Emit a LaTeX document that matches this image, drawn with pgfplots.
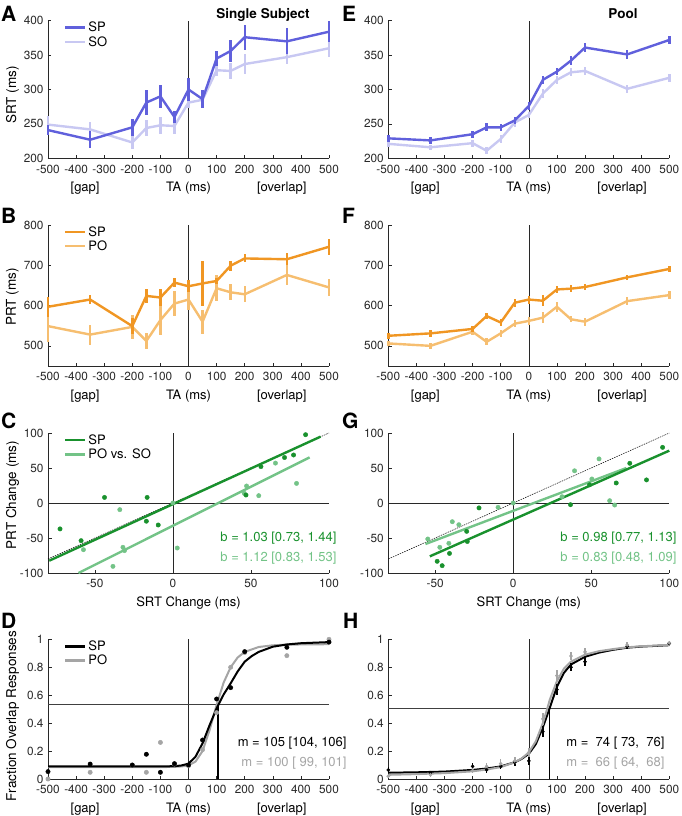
\documentclass[border=0pt]{standalone}
\usepackage{pgfplots}
\pgfplotsset{compat=1.18}
\usepackage{pgfplotstable}
\usepackage{fontspec}
\setmainfont{TeX Gyre Heros}

\definecolor{bdark}{RGB}{96,96,220}
\definecolor{blight}{RGB}{200,200,242}
\definecolor{odark}{RGB}{240,150,35}
\definecolor{olight}{RGB}{246,190,112}
\definecolor{gdark}{RGB}{25,145,45}
\definecolor{glight}{RGB}{115,195,135}
\definecolor{greyc}{RGB}{165,165,165}
\definecolor{axc}{RGB}{40,40,40}

\newcommand{\fs}[1]{\fontsize{#1}{#1}\selectfont}

\pgfplotsset{
  base/.style={scale only axis, width=281pt, anchor=north west,
    axis x line*=bottom, axis y line*=left, tick align=inside,
    major tick length=3.5pt, tick style={axc, line width=0.5pt},
    axis line style={axc, line width=0.6pt},
    ticklabel style={font=\fs{11.8}, text=axc},
    xticklabel style={yshift=-3pt},
    yticklabel style={xshift=-1pt},
    /pgf/number format/assume math mode=true, scaled ticks=false,
    clip=false,
    legend style={at={(0.045,1.02)}, anchor=north west, draw=none, fill=none,
      font=\fs{13}, row sep=-1pt},
    legend cell align=left,
    legend image code/.code={\draw[##1] (0pt,0pt) -- (20pt,0pt);}},
  ta/.style={base, xmin=-500, xmax=500, xtick={-500,-400,...,500}},
  ebar/.style={error bars/.cd, y dir=both, y explicit, error mark=none,
    error bar style={line width=#1}},
}

\newcommand{\talabels}{%
  \node[font=\fs{13}, anchor=base, yshift=-33pt] at (rel axis cs:0.132,0) {[gap]};
  \node[font=\fs{13}, anchor=base, yshift=-33pt] at (rel axis cs:0.5,0) {TA (ms)};
  \node[font=\fs{13}, anchor=base, yshift=-33pt] at (rel axis cs:0.832,0) {[overlap]};
}

% ---------- data ----------
\pgfplotstableread{
x spy spe soy soe
-500 241 7 249 12
-350 227 12 242 11
-200 245 12 223 10
-150 281 18 244 12
-100 290 17 248 12
-50 260 9 247 12
0 300 17 281 8
50 286 13 285 9
100 345 11 328 8
150 356 16 327 12
200 376 18 337 15
350 370 19 347 10
500 384 15 360 13
}\tabA

\pgfplotstableread{
x spy spe poy poe
-500 597 25 549 40
-350 615 12 528 25
-200 549 20 547 30
-150 624 18 512 20
-100 620 22 564 38
-50 657 12 605 30
0 648 15 615 25
50 655 55 560 30
100 661 8 643 32
150 699 12 633 20
200 717 10 628 20
350 715 15 676 25
500 746 20 645 22
}\tabB

\pgfplotstableread{
x spy spe soy soe
-500 229 5 221 4
-350 226 5 216 4
-200 235 5 222 5
-150 245 6 211 5
-100 245 5 228 6
-50 255 5 252 6
0 276 6 263 5
50 314 6 294 6
100 326 5 314 6
150 342 6 325 6
200 361 6 327 6
350 351 6 301 6
500 372 6 317 6
}\tabE

\pgfplotstableread{
x spy spe poy poe
-500 525 8 506 7
-350 531 8 500 8
-200 542 7 535 8
-150 574 8 510 9
-100 558 8 531 8
-50 607 10 555 8
0 615 10 562 10
50 612 14 570 14
100 640 8 597 12
150 642 8 566 8
200 646 8 560 10
350 670 6 611 10
500 691 8 626 9
}\tabF

\pgfplotstableread{
x y
-72.3 -37
-58.8 -53.8
-43.8 8
-16.5 8
-17 -26
-9.4 -31.4
46.8 11.4
56.4 52
71.5 65
77.3 68.6
85 97.6
}\tabCsp

\pgfplotstableread{
x y
-57.3 -66.7
-34 -9.5
-38.4 -90.5
-32 -63.3
-31 -68
0 0
2.8 -64.3
45.7 13.8
47.2 24.3
55 10.5
65.7 57
79.2 28
}\tabCpo

\pgfplotstableread{
x y
-48.7 -83.3
-45.5 -89.5
-40.8 -72
-29.8 -40.5
-29.4 -55
-21.9 -7
36.7 -2.4
48.9 26
66 28.6
74.7 56.7
85.4 33
95.7 79.5
}\tabGsp

\pgfplotstableread{
x y
-54.7 -51.4
-47 -63.3
-41.2 -57.6
-39 -26.7
-34.8 -31
-9.7 -6.2
0 0
31.3 9
39.3 46
50.4 34.3
55 63
61.8 3.3
65 -2.9
}\tabGpo

\pgfplotstableread{
x y
-500 0.053
-350 0.107
-200 0.10
-150 0.177
-100 0.048
-50 0.11
0 0.10
50 0.279
100 0.573
150 0.654
200 0.912
350 0.943
500 0.98
}\tabDsp

\pgfplotstableread{
x y
-500 0.0
-350 0.048
-200 0.10
-150 0.048
-100 0.262
-50 0.107
0 0.095
50 0.21
100 0.475
150 0.80
200 0.905
350 0.883
500 1.0
}\tabDpo

\pgfplotstableread{
x y
-500 0.09
-100 0.09
-50 0.092
-25 0.097
0 0.11
25 0.16
50 0.255
75 0.385
100 0.506
125 0.605
150 0.685
175 0.77
200 0.84
225 0.88
250 0.91
300 0.947
350 0.963
400 0.972
500 0.98
}\tabDspfit

\pgfplotstableread{
x y
-500 0.085
-100 0.085
-50 0.087
-25 0.09
0 0.097
25 0.125
50 0.20
75 0.35
100 0.53
125 0.69
150 0.80
175 0.87
200 0.91
250 0.945
300 0.957
350 0.962
500 0.965
}\tabDpofit

\pgfplotstableread{
x y e
-500 0.065 0.02
-350 0.045 0.015
-200 0.09 0.025
-150 0.065 0.025
-100 0.09 0.02
-50 0.12 0.025
0 0.13 0.03
50 0.34 0.04
100 0.64 0.04
150 0.80 0.03
200 0.84 0.03
350 0.95 0.02
500 0.97 0.01
}\tabHsp

\pgfplotstableread{
x y e
-500 0.02 0.01
-350 0.03 0.015
-200 0.06 0.02
-150 0.09 0.025
-100 0.11 0.03
-50 0.13 0.025
0 0.19 0.03
50 0.43 0.04
100 0.74 0.04
150 0.88 0.03
200 0.91 0.03
350 0.96 0.02
500 0.975 0.01
}\tabHpo

\pgfplotstableread{
x y
-500 0.045
-400 0.048
-300 0.053
-200 0.065
-150 0.075
-100 0.09
-50 0.12
-25 0.145
0 0.18
25 0.25
50 0.37
74 0.506
100 0.66
125 0.76
150 0.82
200 0.875
250 0.905
300 0.925
350 0.94
400 0.948
500 0.958
}\tabHspfit

\pgfplotstableread{
x y
-500 0.03
-400 0.035
-300 0.042
-200 0.055
-150 0.068
-100 0.085
-50 0.12
-25 0.148
0 0.19
25 0.27
50 0.40
66 0.506
75 0.57
100 0.70
125 0.79
150 0.84
200 0.89
250 0.915
300 0.93
350 0.943
400 0.95
500 0.96
}\tabHpofit

\begin{document}
\begin{tikzpicture}
\useasboundingbox (0pt,0pt) rectangle (682pt,-816pt);

% ================= A =================
\begin{axis}[ta, at={(48pt,-20.7pt)}, height=137.6pt, ymin=200, ymax=400, ytick={200,250,...,400}]
\addplot[axc, line width=0.5pt, forget plot] coordinates {(0,200) (0,400)};
\addlegendimage{bdark, line width=2.6pt}\addlegendentry{SP}
\addlegendimage{blight, line width=2.6pt}\addlegendentry{SO}
\addplot[blight, line width=2.4pt, forget plot, ebar=2.4pt] table[x=x, y=soy, y error=soe] {\tabA};
\addplot[bdark, line width=2.4pt, forget plot, ebar=2.4pt] table[x=x, y=spy, y error=spe] {\tabA};
\talabels
\end{axis}

% ================= E =================
\begin{axis}[ta, at={(388.3pt,-20.7pt)}, height=137.6pt, ymin=200, ymax=400, ytick={200,250,...,400}]
\addplot[axc, line width=0.5pt, forget plot] coordinates {(0,200) (0,400)};
\addplot[blight, line width=2.4pt, forget plot, ebar=2.4pt] table[x=x, y=soy, y error=soe] {\tabE};
\addplot[bdark, line width=2.4pt, forget plot, ebar=2.4pt] table[x=x, y=spy, y error=spe] {\tabE};
\talabels
\end{axis}

% ================= B =================
\begin{axis}[ta, at={(48pt,-225pt)}, height=141pt, ymin=450, ymax=800, ytick={500,600,700,800}]
\addplot[axc, line width=0.5pt, forget plot] coordinates {(0,450) (0,800)};
\addlegendimage{odark, line width=2.6pt}\addlegendentry{SP}
\addlegendimage{olight, line width=2.6pt}\addlegendentry{PO}
\addplot[olight, line width=2.4pt, forget plot, ebar=2.4pt] table[x=x, y=poy, y error=poe] {\tabB};
\addplot[odark, line width=2.4pt, forget plot, ebar=2.4pt] table[x=x, y=spy, y error=spe] {\tabB};
\talabels
\end{axis}

% ================= F =================
\begin{axis}[ta, at={(388.3pt,-225pt)}, height=141pt, ymin=450, ymax=800, ytick={500,600,700,800}]
\addplot[axc, line width=0.5pt, forget plot] coordinates {(0,450) (0,800)};
\addplot[olight, line width=2.4pt, forget plot, ebar=2.4pt] table[x=x, y=poy, y error=poe] {\tabF};
\addplot[odark, line width=2.4pt, forget plot, ebar=2.4pt] table[x=x, y=spy, y error=spe] {\tabF};
\talabels
\end{axis}

% ================= C =================
\begin{axis}[base, at={(48pt,-433pt)}, height=140pt, xmin=-80, xmax=100, ymin=-100, ymax=100,
  xtick={-50,0,50,100}, ytick={-100,-50,0,50,100}]
\addplot[axc, line width=0.5pt, forget plot] coordinates {(0,-100) (0,100)};
\addplot[axc, line width=0.5pt, forget plot] coordinates {(-80,0) (100,0)};
\addplot[black, line width=0.5pt, dash pattern=on 1.5pt off 1pt, forget plot] coordinates {(-80,-80) (100,100)};
\addlegendimage{gdark, line width=2.6pt}\addlegendentry{SP}
\addlegendimage{glight, line width=2.6pt}\addlegendentry{PO vs. SO}
\addplot[glight, line width=2.4pt, forget plot] coordinates {(-60.5,-100) (87.6,65.2)};
\addplot[gdark, line width=2.4pt, forget plot] coordinates {(-79.2,-82.4) (94.6,94.8)};
\addplot[glight, only marks, mark=*, mark size=2.2pt, forget plot] table {\tabCpo};
\addplot[gdark, only marks, mark=*, mark size=2.2pt, forget plot] table {\tabCsp};
\node[font=\fs{13}, anchor=base east, text=gdark] at (rel axis cs:1.039,0.224) {b = 1.03 [0.73, 1.44]};
\node[font=\fs{13}, anchor=base east, text=glight] at (rel axis cs:1.039,0.081) {b = 1.12 [0.83, 1.53]};
\node[font=\fs{13}, anchor=base, yshift=-33pt] at (rel axis cs:0.5,0) {SRT Change (ms)};
\end{axis}

% ================= G =================
\begin{axis}[base, at={(388.3pt,-433pt)}, height=140pt, xmin=-80, xmax=100, ymin=-100, ymax=100,
  xtick={-50,0,50,100}, ytick={-100,-50,0,50,100}]
\addplot[axc, line width=0.5pt, forget plot] coordinates {(0,-100) (0,100)};
\addplot[axc, line width=0.5pt, forget plot] coordinates {(-80,0) (100,0)};
\addplot[black, line width=0.5pt, dash pattern=on 1.5pt off 1pt, forget plot] coordinates {(-80,-80) (100,100)};
\addplot[glight, line width=2.4pt, forget plot] coordinates {(-56.2,-58.6) (72.5,50)};
\addplot[gdark, line width=2.4pt, forget plot] coordinates {(-53.4,-76.2) (100,74.8)};
\addplot[glight, only marks, mark=*, mark size=2.2pt, forget plot] table {\tabGpo};
\addplot[gdark, only marks, mark=*, mark size=2.2pt, forget plot] table {\tabGsp};
\node[font=\fs{13}, anchor=base east, text=gdark] at (rel axis cs:1.038,0.224) {b = 0.98 [0.77, 1.13]};
\node[font=\fs{13}, anchor=base east, text=glight] at (rel axis cs:1.038,0.081) {b = 0.83 [0.48, 1.09]};
\node[font=\fs{13}, anchor=base, yshift=-33pt] at (rel axis cs:0.5,0) {SRT Change (ms)};
\end{axis}

% ================= D =================
\begin{axis}[ta, at={(48pt,-639.3pt)}, height=139.7pt, ymin=0, ymax=1, ytick={0,0.2,...,1}]
\addplot[axc, line width=0.5pt, forget plot] coordinates {(0,0) (0,1)};
\addplot[black!75, line width=1pt, forget plot] coordinates {(-500,0.535) (500,0.535)};
\addplot[black, line width=1.6pt, forget plot] coordinates {(105,0) (105,0.535)};
\addlegendimage{black, line width=2.6pt}\addlegendentry{SP}
\addlegendimage{greyc, line width=2.6pt}\addlegendentry{PO}
\addplot[greyc, line width=2pt, forget plot] table {\tabDpofit};
\addplot[black, line width=2pt, forget plot] table {\tabDspfit};
\addplot[greyc, only marks, mark=*, mark size=2.2pt, forget plot] table {\tabDpo};
\addplot[black, only marks, mark=*, mark size=2.2pt, forget plot] table {\tabDsp};
\node[font=\fs{13}, anchor=base east, text=black] at (rel axis cs:1.075,0.236) {m = 105 [104, 106]};
\node[font=\fs{13}, anchor=base east, text=greyc] at (rel axis cs:1.075,0.093) {m = 100 [ 99, 101]};
\talabels
\end{axis}

% ================= H =================
\begin{axis}[ta, at={(388.3pt,-639.3pt)}, height=139.7pt, ymin=0, ymax=1, ytick={0,0.2,...,1}]
\addplot[axc, line width=0.5pt, forget plot] coordinates {(0,0) (0,1)};
\addplot[black!75, line width=1pt, forget plot] coordinates {(-500,0.506) (500,0.506)};
\addplot[black, line width=1.6pt, forget plot] coordinates {(74,0) (74,0.506)};
\addplot[black, line width=2pt, forget plot] table {\tabHspfit};
\addplot[greyc, line width=2pt, forget plot] table {\tabHpofit};
\addplot[black, only marks, mark=*, mark size=1.6pt, forget plot, ebar=1.5pt] table[x=x, y=y, y error=e] {\tabHsp};
\addplot[greyc, only marks, mark=*, mark size=1.6pt, forget plot, ebar=1.5pt] table[x=x, y=y, y error=e] {\tabHpo};
\node[font=\fs{13}, anchor=base east, text=black] at (rel axis cs:0.995,0.236) {m =\ \ 74 [ 73,\ \ 76]};
\node[font=\fs{13}, anchor=base east, text=greyc] at (rel axis cs:0.995,0.093) {m =\ \ 66 [ 64,\ \ 68]};
\talabels
\end{axis}

% ---------- y labels, panel letters, titles ----------
\node[font=\fs{13.5}, rotate=90] at (12.5pt,-95pt) {SRT (ms)};
\node[font=\fs{13.5}, rotate=90] at (12.5pt,-297pt) {PRT (ms)};
\node[font=\fs{13.5}, rotate=90] at (12.5pt,-495pt) {PRT Change (ms)};
\node[font=\fs{13.5}, rotate=90] at (12.5pt,-716pt) {Fraction Overlap Responses};

\foreach \l/\x/\y in {A/1/22, E/342/22, B/1/223, F/342/223, C/1/428, G/342/428, D/1/628, H/343/628}
  \node[font=\bfseries\fs{21}, anchor=base west, inner sep=0pt] at (\x pt,-\y pt) {\l};

\node[font=\bfseries\fs{13.5}, anchor=base] at (263pt,-19pt) {Single Subject};
\node[font=\bfseries\fs{13.5}, anchor=base] at (623pt,-19pt) {Pool};
\end{tikzpicture}
\end{document}
